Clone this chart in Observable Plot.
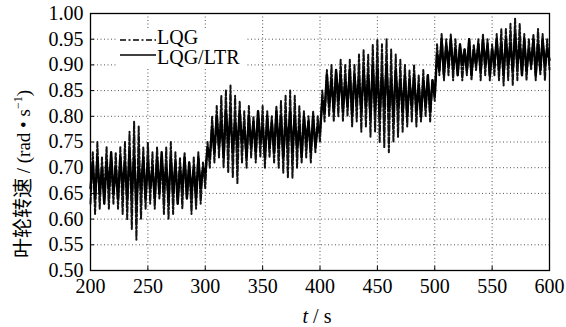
<!DOCTYPE html>
<html>
<head>
<meta charset="utf-8">
<script src="https://cdn.jsdelivr.net/npm/d3@7"></script>
<script src="https://cdn.jsdelivr.net/npm/@observablehq/plot@0.6"></script>
<style>
html,body{margin:0;padding:0;background:#fff;}
svg text, svg tspan{font-family:"Liberation Serif","Times New Roman","DejaVu Serif",serif !important;}
svg tspan.cjk{font-family:"Noto Sans CJK SC",sans-serif !important;}
</style>
</head>
<body>
<div id="chart"></div>
<script>
const seriesNames = ["LQG", "LQG/LTR"];
const tStart = 200, tStep = 2;
const xTicks = [200, 250, 300, 350, 400, 450, 500, 550, 600];
const yTicks = [0.50, 0.55, 0.60, 0.65, 0.70, 0.75, 0.80, 0.85, 0.90, 0.95, 1.00];

// LQG (dash-dot), sampled every 2 s from t = 200 s
const lqg = [
0.63,0.73,0.61,0.75,0.62,0.72,0.64,0.74,0.62,0.72,0.63,0.73,0.62,0.74,0.61,0.75,0.60,0.77,0.58,0.79,
0.56,0.78,0.60,0.74,0.62,0.75,0.63,0.73,0.62,0.74,0.64,0.72,0.61,0.74,0.60,0.75,0.61,0.73,0.63,0.72,
0.62,0.73,0.64,0.71,0.61,0.72,0.62,0.73,0.63,0.71,
0.66,0.75,0.70,0.80,0.71,0.82,0.72,0.84,0.70,0.85,0.69,0.86,0.68,0.84,0.67,0.83,0.71,0.81,0.70,0.82,
0.72,0.80,0.71,0.81,0.72,0.82,0.70,0.81,0.72,0.80,0.71,0.82,0.70,0.83,0.69,0.84,0.68,0.85,0.68,0.84,
0.70,0.82,0.71,0.81,0.72,0.80,0.71,0.81,0.73,0.80,
0.75,0.85,0.79,0.89,0.80,0.90,0.79,0.89,0.80,0.91,0.79,0.90,0.80,0.91,0.78,0.90,0.79,0.92,0.77,0.93,
0.78,0.92,0.76,0.94,0.77,0.95,0.75,0.94,0.74,0.95,0.73,0.93,0.75,0.92,0.76,0.91,0.77,0.90,0.78,0.89,
0.79,0.90,0.78,0.88,0.79,0.89,0.80,0.88,0.79,0.87,
0.83,0.94,0.88,0.96,0.87,0.95,0.88,0.96,0.87,0.95,0.88,0.94,0.87,0.93,0.88,0.95,0.87,0.94,0.89,0.95,
0.87,0.96,0.88,0.95,0.87,0.94,0.88,0.96,0.87,0.97,0.86,0.97,0.87,0.98,0.86,0.99,0.87,0.98,0.88,0.96,
0.87,0.95,0.89,0.96,0.87,0.97,0.88,0.96,0.87,0.95,0.89
];

// LQG/LTR (solid), sampled every 2 s from t = 200 s
const lqgLtr = [
0.66,0.71,0.64,0.72,0.65,0.70,0.63,0.71,0.66,0.73,0.65,0.70,0.64,0.72,0.66,0.71,0.64,0.73,0.65,0.72,
0.63,0.70,0.66,0.72,0.64,0.71,0.66,0.70,0.64,0.72,0.65,0.73,0.66,0.70,0.64,0.72,0.65,0.71,0.63,0.70,
0.66,0.72,0.64,0.71,0.65,0.70,0.64,0.72,0.66,0.70,
0.69,0.74,0.72,0.78,0.73,0.80,0.74,0.79,0.72,0.81,0.75,0.80,0.73,0.79,0.74,0.81,0.75,0.78,0.72,0.80,
0.74,0.79,0.73,0.81,0.75,0.78,0.72,0.80,0.74,0.79,0.73,0.81,0.74,0.80,0.72,0.79,0.75,0.81,0.73,0.80,
0.74,0.78,0.72,0.80,0.75,0.79,0.73,0.80,0.74,0.78,
0.77,0.83,0.81,0.88,0.82,0.87,0.81,0.89,0.83,0.88,0.81,0.87,0.82,0.89,0.80,0.88,0.83,0.87,0.81,0.89,
0.82,0.88,0.80,0.90,0.81,0.89,0.80,0.88,0.82,0.90,0.81,0.87,0.80,0.89,0.82,0.87,0.81,0.88,0.80,0.87,
0.82,0.88,0.81,0.86,0.80,0.87,0.82,0.88,0.81,0.87,
0.84,0.92,0.89,0.95,0.88,0.94,0.90,0.95,0.89,0.93,0.88,0.94,0.90,0.93,0.89,0.95,0.88,0.93,0.90,0.94,
0.89,0.95,0.90,0.94,0.88,0.93,0.90,0.95,0.89,0.94,0.88,0.95,0.90,0.94,0.89,0.96,0.90,0.94,0.88,0.95,
0.89,0.93,0.90,0.95,0.88,0.94,0.89,0.95,0.90,0.93,0.91
];

const toRows = (arr, name) => arr.map((v, i) => ({t: tStart + tStep * i, v, s: name}));
const rowsLqg = toRows(lqg, seriesNames[0]);
const rowsLtr = toRows(lqgLtr, seriesNames[1]);

const W = 566, H = 327;
const mL = 90, mR = 17, mT = 13, mB = 57;
const serif = "Liberation Serif, Times New Roman, DejaVu Serif, serif";

const chart = Plot.plot({
  width: W, height: H,
  marginLeft: mL, marginRight: mR, marginTop: mT, marginBottom: mB,
  style: {fontFamily: serif, fontSize: "20px", color: "#000", background: "#fff", overflow: "visible"},
  x: {domain: [200, 600], label: null},
  y: {domain: [0.5, 1.0], label: null},
  marks: [
    Plot.gridX(xTicks, {stroke: "#555", strokeOpacity: 1, strokeWidth: 1, strokeDasharray: "1,2.5"}),
    Plot.gridY(yTicks, {stroke: "#555", strokeOpacity: 1, strokeWidth: 1, strokeDasharray: "1,2.5"}),
    Plot.line(rowsLqg, {x: "t", y: "v", stroke: "#111", strokeWidth: 2, strokeDasharray: "6,2,2,2"}),
    Plot.line(rowsLtr, {x: "t", y: "v", stroke: "#000", strokeWidth: 2.4}),
    Plot.axisX(xTicks, {tickSize: -4, tickPadding: 12, tickFormat: d => String(d), fontSize: 20, fontFamily: serif}),
    Plot.axisY(yTicks, {tickSize: -4, tickPadding: 11, tickFormat: d3.format(".2f"), fontSize: 20, fontFamily: serif}),
    Plot.frame({stroke: "#000", strokeWidth: 1.3})
  ]
});

document.getElementById("chart").appendChild(chart);

const svg = d3.select(chart);

// Legend (white box, samples, labels)
const lg = svg.append("g").attr("text-anchor", "start");
lg.append("rect").attr("x", 118).attr("y", 28).attr("width", 128).attr("height", 40).attr("fill", "#fff");
lg.append("line").attr("x1", 120).attr("x2", 156).attr("y1", 40).attr("y2", 40)
  .attr("stroke", "#000").attr("stroke-width", 1.4).attr("stroke-dasharray", "6,2.5,2,2.5");
lg.append("line").attr("x1", 120).attr("x2", 156).attr("y1", 55).attr("y2", 55)
  .attr("stroke", "#000").attr("stroke-width", 1.4);
lg.append("text").attr("x", 157).attr("y", 44).attr("text-anchor", "start").attr("font-size", 20).text(seriesNames[0]);
lg.append("text").attr("x", 157).attr("y", 64).attr("text-anchor", "start").attr("font-size", 20).text(seriesNames[1]);

// X axis title
const xt = svg.append("text").attr("x", 317).attr("y", 323).attr("text-anchor", "middle").attr("font-size", 20);
xt.append("tspan").attr("font-style", "italic").text("t");
xt.append("tspan").text(" / s");

// Y axis title
const yt = svg.append("text").attr("transform", "translate(30,174) rotate(-90)").attr("text-anchor", "middle").attr("font-size", 19);
yt.append("tspan").attr("class", "cjk").attr("font-size", 20).text("叶轮转速");
yt.append("tspan").text(" / (rad • s");
yt.append("tspan").attr("font-size", 12).attr("dy", -8).text("−1");
yt.append("tspan").attr("dy", 8).text(")");
</script>
</body>
</html>
